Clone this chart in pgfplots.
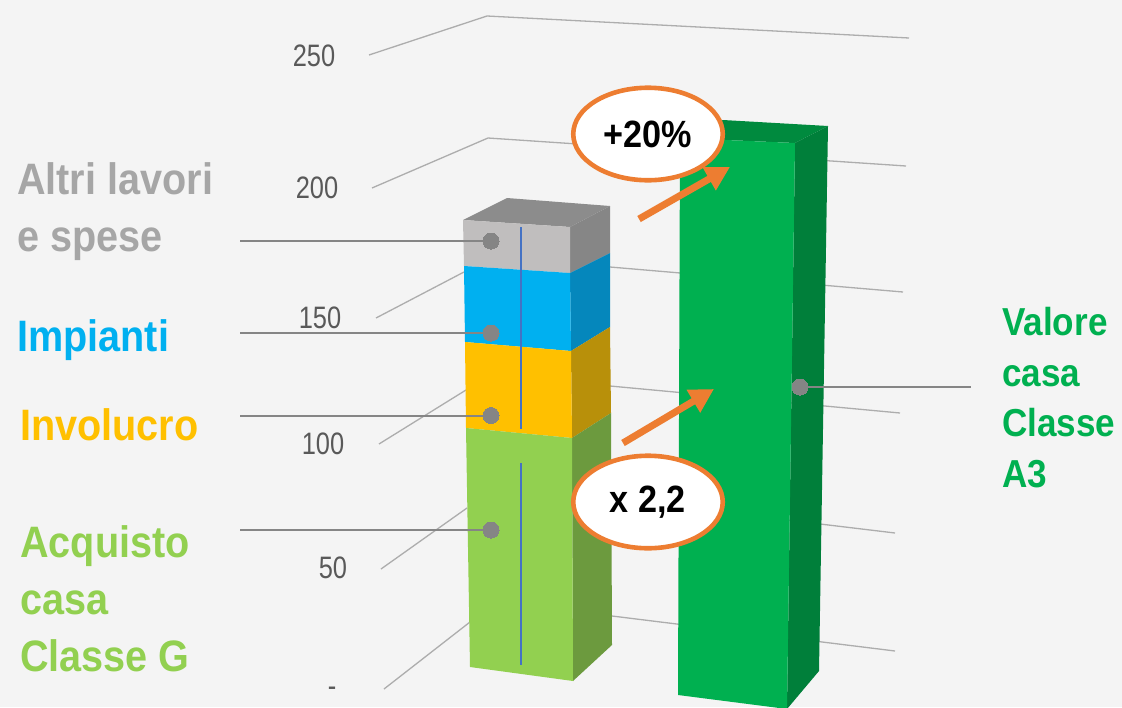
\documentclass[border=0pt]{standalone}
\usepackage{pgfplots}
\pgfplotsset{compat=1.18}
\usepackage{fontspec}
\usetikzlibrary{shapes.geometric,arrows.meta}
\setmainfont{Liberation Sans}
\newfontfamily\narrow[FakeStretch=0.82]{Liberation Sans}
\newfontfamily\narrowb[FakeStretch=0.9]{Liberation Sans}
\definecolor{bg}{HTML}{F4F4F4}
\definecolor{gridc}{HTML}{ADADAD}
\definecolor{tickc}{HTML}{595959}
\definecolor{leader}{HTML}{858585}
\definecolor{graytop}{HTML}{8C8C8C}
\definecolor{grayfront}{HTML}{C0BEBE}
\definecolor{grayside}{HTML}{868686}
\definecolor{bluef}{HTML}{00B0F0}
\definecolor{blues}{HTML}{0587BC}
\definecolor{yellf}{HTML}{FFC000}
\definecolor{yells}{HTML}{B8900A}
\definecolor{greenf}{HTML}{92D050}
\definecolor{greens}{HTML}{6C9A3E}
\definecolor{dgreenf}{HTML}{00B050}
\definecolor{dgreent}{HTML}{008A3E}
\definecolor{dgreens}{HTML}{007F3A}
\definecolor{labgray}{HTML}{A6A6A6}
\definecolor{oran}{HTML}{ED7D31}
\definecolor{bluel}{HTML}{4472C4}
\tikzset{
  lab/.style={anchor=base west,inner sep=0,font=\narrowb\bfseries\fontsize{44}{44}\selectfont},
  labr/.style={anchor=base west,inner sep=0,text=dgreenf,font=\narrowb\bfseries\fontsize{39}{39}\selectfont},
  tk/.style={anchor=center,inner sep=0,text=tickc,font=\narrow\fontsize{31}{31}\selectfont},
  grd/.style={gridc,line width=1.3pt},
  ldr/.style={leader,line width=2pt},
  arr/.style={oran,line width=7pt,-{Triangle[length=24pt,width=25pt]}},
  oval/.style={ellipse,draw=oran,fill=white,line width=4.6pt,minimum width=149.5pt,minimum height=92.5pt,inner sep=0,font=\narrowb\bfseries\fontsize{38}{38}\selectfont},
}
\begin{document}
\begin{tikzpicture}
\begin{axis}[
  width=1122pt,height=707pt,scale only axis,
  xmin=0,xmax=1122,ymin=0,ymax=707,y dir=reverse,
  axis lines=none,ticks=none,
]
% background
\addplot[fill=bg,draw=none] coordinates {(0,0)(1122,0)(1122,707)(0,707)} --cycle;

% grid: left wall and back wall
\addplot[grd] coordinates {(369,55)(487,16)(909,38)};
\addplot[grd] coordinates {(372,188)(488,138)(906,166)};
\addplot[grd] coordinates {(376,318)(464,272)};
\addplot[grd] coordinates {(610,267)(903,292)};
\addplot[grd] coordinates {(379,444)(466,390)};
\addplot[grd] coordinates {(610,386)(900,413)};
\addplot[grd] coordinates {(381,569)(467,508)};
\addplot[grd] coordinates {(612,499)(895,533)};
\addplot[grd] coordinates {(384,689)(470,622)};
\addplot[grd] coordinates {(612,616)(895,651)};

% left bar: top and sides
\addplot[fill=graytop,draw=none] coordinates {(463,220)(507,198)(610,206)(570,227)} --cycle;
\addplot[fill=grayside,draw=none] coordinates {(570,227)(610,206)(610,253)(570,273)} --cycle;
\addplot[fill=blues,draw=none] coordinates {(570,273)(610,253)(610,327)(571,351)} --cycle;
\addplot[fill=yells,draw=none] coordinates {(571,351)(610,327)(611,413)(572,438)} --cycle;
\addplot[fill=greens,draw=none] coordinates {(572,438)(611,413)(612,645)(573,681)} --cycle;
% left bar: front
\addplot[fill=grayfront,draw=none] coordinates {(463,220)(570,227)(570,273)(464,266)} --cycle;
\addplot[fill=bluef,draw=none] coordinates {(464,266)(570,273)(571,351)(465,342)} --cycle;
\addplot[fill=yellf,draw=none] coordinates {(465,342)(571,351)(572,438)(466,428)} --cycle;
\addplot[fill=greenf,draw=none] coordinates {(466,428)(572,438)(573,681)(470,667)} --cycle;
% thin blue lines
\addplot[bluel,line width=1.2pt] coordinates {(521,227)(521,429)};
\addplot[bluel,line width=1.2pt] coordinates {(521,463)(521,665)};

% right bar
\addplot[fill=dgreent,draw=none] coordinates {(680,138)(723,120)(828,126)(795,143)} --cycle;
\addplot[fill=dgreens,draw=none] coordinates {(795,143)(828,126)(819,671)(787,709)} --cycle;
\addplot[fill=dgreenf,draw=none] coordinates {(680,138)(795,143)(787,709)(678,695)} --cycle;

% leaders and dots
\addplot[ldr] coordinates {(240,241)(491,241)};
\addplot[ldr] coordinates {(240,333)(491,333)};
\addplot[ldr] coordinates {(240,415.5)(491,415.5)};
\addplot[ldr] coordinates {(240,530)(491,530)};
\addplot[ldr] coordinates {(800,387)(971,387)};
\addplot[only marks,leader,mark=*,mark size=8pt,mark options={fill=leader,draw=leader,line width=0pt}]
  coordinates {(491,241)(491,333)(491,415.5)(491,530)(800,387)};

% arrows
\addplot[arr] coordinates {(639,219)(730,167)};
\addplot[arr] coordinates {(623,443)(714,389)};

% ovals
\node[oval] at (axis cs:648,134) {\raisebox{-6pt}{+20\%}};
\node[oval] at (axis cs:648,502) {\raisebox{-7pt}{x 2,2}};

% tick labels
\node[tk] at (axis cs:314,56) {250};
\node[tk] at (axis cs:317,188) {200};
\node[tk] at (axis cs:320,318) {150};
\node[tk] at (axis cs:323,444) {100};
\node[tk] at (axis cs:333,568) {50};
\node[tk] at (axis cs:332,692) {-};

% category labels
\node[lab,text=labgray] at (axis cs:17,194) {Altri lavori};
\node[lab,text=labgray] at (axis cs:17,251) {e spese};
\node[lab,text=bluef] at (axis cs:17,351) {Impianti};
\node[lab,text=yellf] at (axis cs:20,440) {Involucro};
\node[lab,text=greenf] at (axis cs:20,557) {Acquisto};
\node[lab,text=greenf] at (axis cs:20,614) {casa};
\node[lab,text=greenf] at (axis cs:20,671) {Classe G};
\node[labr] at (axis cs:1002,335) {Valore};
\node[labr] at (axis cs:1002,386) {casa};
\node[labr] at (axis cs:1002,436) {Classe};
\node[labr] at (axis cs:1002,487) {A3};
\end{axis}
\end{tikzpicture}
\end{document}
